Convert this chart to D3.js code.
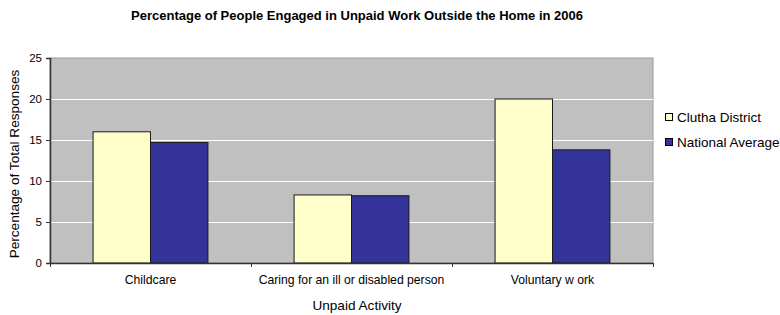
<!DOCTYPE html>
<html>
<head>
<meta charset="utf-8">
<script src="https://cdn.jsdelivr.net/npm/d3@7"></script>
<style>
  body { margin: 0; background: #fff; }
  svg { display: block; }
  text { font-family: "Liberation Sans", Arial, sans-serif; fill: #000; }
</style>
</head>
<body>
<svg id="chart" width="780" height="315"></svg>
<script>
const title = "Percentage of People Engaged in Unpaid Work Outside the Home in 2006";
const categories = ["Childcare", "Caring for an ill or disabled person", "Voluntary w ork"];
const seriesNames = ["Clutha District", "National Average"];
const cluthaValues = [16.0, 8.3, 20.0];
const nationalValues = [14.7, 8.2, 13.8];
const yTicks = [0, 5, 10, 15, 20, 25];
const colors = ["#FFFFCC", "#333399"];
const xTitle = "Unpaid Activity";
const yTitle = "Percentage of Total Responses";

const seriesValues = [cluthaValues, nationalValues];
const svg = d3.select("#chart");
const plot = { left: 50, right: 653, top: 58, bottom: 263 };
const FONT = "Liberation Sans, Arial, sans-serif";

const gap = 1.5 / 3.5;
const x0 = d3.scaleBand().domain(categories).range([plot.left, plot.right])
  .paddingInner(gap).paddingOuter(gap / 2);
const x1 = d3.scaleBand().domain(seriesNames).range([0, x0.bandwidth()]).padding(0);
const y = d3.scaleLinear().domain([0, 25]).range([plot.bottom, plot.top]);

// plot background
svg.append("rect")
  .attr("x", plot.left).attr("y", plot.top)
  .attr("width", plot.right - plot.left).attr("height", plot.bottom - plot.top)
  .attr("fill", "#C0C0C0").attr("stroke", "#9a9a9a").attr("stroke-width", 1);

// gridlines
svg.append("g").selectAll("line").data(yTicks.filter(t => t > 0 && t < 25)).join("line")
  .attr("x1", plot.left).attr("x2", plot.right)
  .attr("y1", d => Math.round(y(d)) + 0.5).attr("y2", d => Math.round(y(d)) + 0.5)
  .attr("stroke", "#ffffff").attr("stroke-width", 1);

// bars
const groups = svg.append("g").selectAll("g").data(categories).join("g")
  .attr("transform", d => `translate(${x0(d)},0)`);
groups.selectAll("rect").data((d, i) => seriesNames.map((s, j) => ({ s, v: seriesValues[j][i], j })))
  .join("rect")
  .attr("x", d => x1(d.s)).attr("width", x1.bandwidth())
  .attr("y", d => y(d.v)).attr("height", d => y(0) - y(d.v))
  .attr("fill", d => colors[d.j]).attr("stroke", "#1a1a1a").attr("stroke-width", 1);

// y axis
const yAxis = d3.axisLeft(y).tickValues(yTicks).tickSize(4).tickPadding(4).tickFormat(d3.format("d"));
const gy = svg.append("g").attr("transform", `translate(${plot.left},0)`).call(yAxis);
gy.select(".domain").attr("stroke", "#333").attr("stroke-width", 1.5);
gy.selectAll(".tick line").attr("stroke", "#333");
gy.selectAll(".tick text").attr("font-size", "11.5px").attr("fill", "#000").attr("font-family", FONT);

// x axis
const xAxis = d3.axisBottom(x0).tickSize(0).tickPadding(12);
const gx = svg.append("g").attr("transform", `translate(0,${plot.bottom})`).call(xAxis);
gx.select(".domain").attr("stroke", "#333").attr("stroke-width", 1.5);
gx.selectAll(".tick text").attr("font-size", "12.2px").attr("fill", "#000").attr("font-family", FONT);
// category boundary tick marks
const boundaries = categories.map(c => x0(c) - x0.step() * gap / 2).concat([plot.right]);
svg.append("g").selectAll("line").data(boundaries).join("line")
  .attr("x1", d => Math.round(d) + 0.5).attr("x2", d => Math.round(d) + 0.5)
  .attr("y1", plot.bottom).attr("y2", plot.bottom + 4)
  .attr("stroke", "#333");

// title
svg.append("text").attr("x", 357).attr("y", 20).attr("text-anchor", "middle")
  .attr("font-size", "13px").attr("font-weight", "bold").text(title);

// axis titles
svg.append("text").attr("x", 357).attr("y", 310).attr("text-anchor", "middle")
  .attr("font-size", "13.6px").text(xTitle);
svg.append("text").attr("transform", `translate(19,164) rotate(-90)`)
  .attr("text-anchor", "middle").attr("font-size", "13.6px").text(yTitle);

// legend
const legendY = [117, 142];
const lg = svg.append("g").selectAll("g").data(seriesNames).join("g")
  .attr("transform", (d, i) => `translate(665,${legendY[i]})`);
lg.append("rect").attr("x", 0.5).attr("y", -3.5).attr("width", 7).attr("height", 7)
  .attr("fill", (d, i) => colors[i]).attr("stroke", "#000").attr("stroke-width", 1);
lg.append("text").attr("x", 12).attr("y", 5).attr("font-size", "13.5px").text(d => d);
</script>
</body>
</html>
